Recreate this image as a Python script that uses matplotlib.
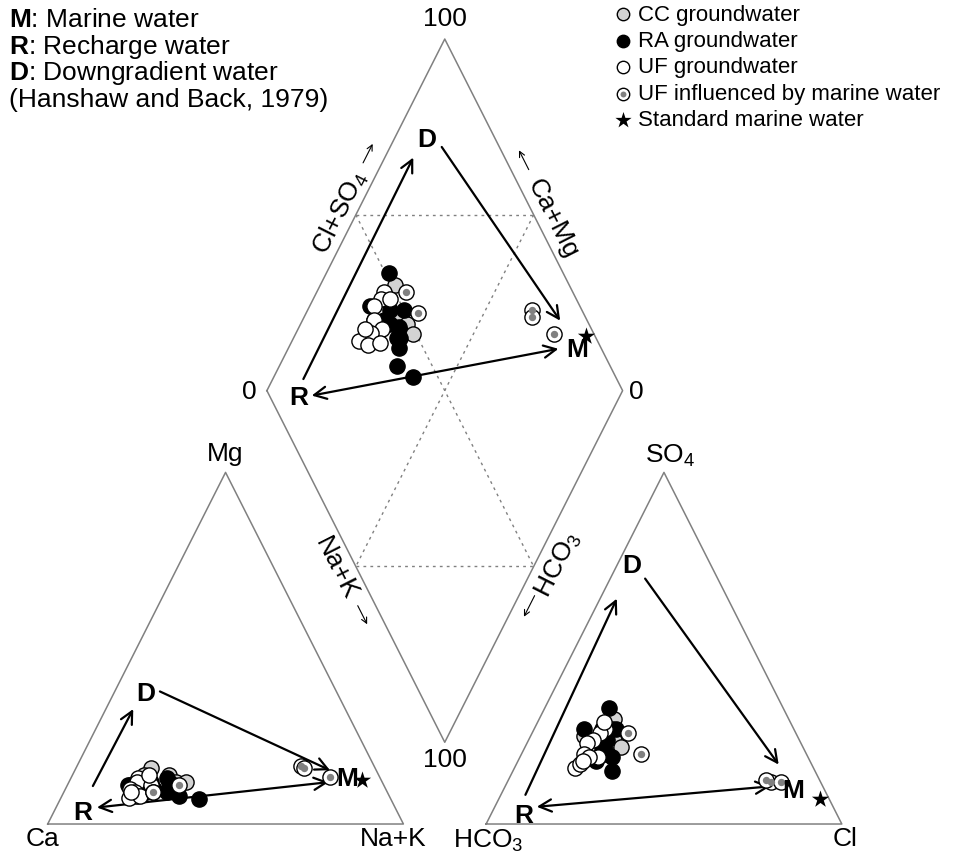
import numpy as np
import matplotlib.pyplot as plt
from matplotlib.transforms import ScaledTranslation

plt.rcParams['font.family'] = ['Liberation Sans', 'DejaVu Sans']
plt.rcParams['mathtext.fontset'] = 'custom'
plt.rcParams['mathtext.rm'] = 'Liberation Sans'
plt.rcParams['mathtext.bf'] = 'Liberation Sans:bold'
plt.rcParams['mathtext.it'] = 'Liberation Sans:italic'

# milliequivalent percentages; Ca = 100 - Mg - (Na+K), HCO3 = 100 - SO4 - Cl
cc_mg = [16, 14, 12, 10, 14, 12]
cc_nak = [21, 27, 30, 29, 20, 33]
cc_so4 = [30, 24, 27, 25, 25, 22]
cc_cl = [21, 24, 22, 21, 15, 27]

ra_mg = [11, 13, 12, 10, 9, 11, 8, 7, 12, 9, 11, 10]
ra_nak = [17.5, 27, 23, 25, 29, 17, 33, 39, 28, 23, 30, 31]
ra_so4 = [33, 27, 27, 22, 20, 27, 18, 15, 24, 21, 19, 20]
ra_cl = [18, 23, 19, 22, 24, 14, 22, 28, 22, 22, 26, 23]

uf_mg = [13, 12, 10, 9, 11, 8, 7.5, 8, 9, 14, 9]
uf_nak = [19, 19, 18, 20, 23.5, 21, 19, 22, 25, 21.6, 18.8]
uf_so4 = [27, 26, 24, 23, 19, 20, 16, 17, 19, 29, 18]
uf_cl = [20, 19, 18, 17, 22, 17.5, 17, 18, 19.5, 18.6, 18.3]

ufm_mg = [9, 11, 16.5, 16, 13.4]
ufm_nak = [25, 31.5, 63, 64, 72.7]
ufm_so4 = [26, 20, 12, 12.5, 12]
ufm_cl = [27, 33.5, 74, 72.5, 76.8]

sw_mg = [12.5]
sw_nak = [82]
sw_so4 = [7]
sw_cl = [90.5]

legend_labels = ['CC groundwater', 'RA groundwater', 'UF groundwater',
                 'UF influenced by marine water', 'Standard marine water']
note_lines = [r'$\mathbf{M}$: Marine water', r'$\mathbf{R}$: Recharge water',
              r'$\mathbf{D}$: Downgradient water', '(Hanshaw and Back, 1979)']

gap = 0.2325
h = np.sqrt(3) / 2
FS = 19
LEG_FS = 16
GREY = '#808080'


def cation_xy(mg, nak):
    mg = np.asarray(mg, float) / 100
    nak = np.asarray(nak, float) / 100
    return nak + mg / 2, mg * h


def anion_xy(so4, cl):
    so4 = np.asarray(so4, float) / 100
    cl = np.asarray(cl, float) / 100
    return 1 + gap + cl + so4 / 2, so4 * h


def diamond_xy(nak, clso4):
    n = np.asarray(nak, float) / 100
    a = np.asarray(clso4, float) / 100
    return 0.5 + gap / 2 + 0.5 * (a + n), h * (1 + gap) + h * (a - n)


def all_xy(mg, nak, so4, cl):
    pts = [cation_xy(mg, nak), anion_xy(so4, cl),
           diamond_xy(nak, np.add(so4, cl))]
    x = np.concatenate([p[0] for p in pts])
    y = np.concatenate([p[1] for p in pts])
    return x, y


fig = plt.figure(figsize=(9.56, 8.54), dpi=100)
ax = fig.add_axes([0, 0, 1, 1])
ax.set_xlim(-0.1341, 2.5535)
ax.set_ylim(-0.0714, 2.0320)
ax.axis('off')

# outlines
ca_v, nak_v, mg_v = (0, 0), (1, 0), (0.5, h)
hco3_v, cl_v, so4_v = (1 + gap, 0), (2 + gap, 0), (1.5 + gap, h)
dL = (0.5 + gap / 2, h * (1 + gap))
dT = (1 + gap / 2, h * (2 + gap))
dR = (1.5 + gap / 2, h * (1 + gap))
dB = (1 + gap / 2, h * gap)
for poly in [(ca_v, nak_v, mg_v), (hco3_v, cl_v, so4_v), (dL, dT, dR, dB)]:
    xs = [p[0] for p in poly] + [poly[0][0]]
    ys = [p[1] for p in poly] + [poly[0][1]]
    ax.plot(xs, ys, color=GREY, lw=1.1, zorder=1)


def mid(p, q):
    return ((p[0] + q[0]) / 2, (p[1] + q[1]) / 2)


# 50 % lines inside the diamond
for p, q in [(mid(dL, dT), mid(dT, dR)), (mid(dL, dB), mid(dB, dR)),
             (mid(dL, dT), mid(dB, dR)), (mid(dT, dR), mid(dL, dB))]:
    ax.plot([p[0], q[0]], [p[1], q[1]], color=GREY, lw=1.0,
            ls=(0, (2, 3)), zorder=1)


def off_label(pt, dx, dy, text, **kw):
    ax.annotate(text, xy=pt, xytext=(dx * 0.72, dy * 0.72),
                textcoords='offset points', ha='center', va='center',
                fontsize=FS, **kw)


off_label(mg_v, 0, 19, 'Mg')
off_label(ca_v, -5, -14, 'Ca')
off_label(nak_v, -10, -14, 'Na+K')
off_label(so4_v, 6, 17, r'SO$_4$')
off_label(hco3_v, 2, -16, r'HCO$_3$')
off_label(cl_v, 3, -14, 'Cl')
off_label(dT, 0, 21, '100')
off_label(dB, 0, -17, '100')
off_label(dL, -18, 0, '0')
off_label(dR, 14, 0, '0')


def edge_geom(p0, p1):
    a = ax.transData.transform(p0)
    b = ax.transData.transform(p1)
    d = (b - a) / np.hypot(*(b - a))
    return d, np.degrees(np.arctan2(d[1], d[0]))


def along(p0, p1, t):
    return (p0[0] + t * (p1[0] - p0[0]), p0[1] + t * (p1[1] - p0[1]))


def edge_text(p0, p1, t, perp, text):
    d, ang = edge_geom(p0, p1)
    nrm = np.array([-d[1], d[0]]) * perp
    ax.annotate(text, xy=along(p0, p1, t), xytext=(nrm[0] * 0.72, nrm[1] * 0.72),
                textcoords='offset points', ha='center', va='center',
                rotation=ang, rotation_mode='anchor', fontsize=FS)


def edge_arrow(p0, p1, t0, t1, perp):
    d, _ = edge_geom(p0, p1)
    nrm = np.array([-d[1], d[0]]) * perp / 100
    shift = ax.transData + ScaledTranslation(nrm[0], nrm[1], fig.dpi_scale_trans)
    ax.annotate('', xy=along(p0, p1, t1), xytext=along(p0, p1, t0),
                xycoords=shift, textcoords=shift,
                arrowprops=dict(arrowstyle='->', lw=0.8, color='black',
                                mutation_scale=10, shrinkA=0, shrinkB=0))


# axis names along the diamond edges
edge_text(dL, dT, 0.49, 16, r'Cl+SO$_4$')
edge_arrow(dL, dT, 0.626, 0.680, 17)
edge_text(dT, dR, 0.528, 16, 'Ca+Mg')
edge_arrow(dT, dR, 0.392, 0.337, 16)
edge_text(dL, dB, 0.479, -18, 'Na+K')
edge_arrow(dL, dB, 0.591, 0.644, -16)
edge_text(dB, dR, 0.535, -21, r'HCO$_3$')
edge_arrow(dB, dR, 0.435, 0.375, -14)

# samples
ms = 120
x, y = all_xy(cc_mg, cc_nak, cc_so4, cc_cl)
ax.scatter(x, y, s=ms, c='#d3d3d3', edgecolors='black', linewidths=1.0, zorder=3)
x, y = all_xy(ra_mg, ra_nak, ra_so4, ra_cl)
ax.scatter(x, y, s=ms, c='black', edgecolors='black', linewidths=1.0, zorder=4)
x, y = all_xy(uf_mg, uf_nak, uf_so4, uf_cl)
ax.scatter(x, y, s=ms, c='white', edgecolors='black', linewidths=1.0, zorder=5)
x, y = all_xy(ufm_mg, ufm_nak, ufm_so4, ufm_cl)
ax.scatter(x, y, s=ms, c='white', edgecolors='black', linewidths=1.0, zorder=6)
ax.scatter(x, y, s=28, c=GREY, linewidths=0, zorder=6)
x, y = all_xy(sw_mg, sw_nak, sw_so4, sw_cl)
ax.scatter(x, y, s=170, c='black', marker='*', linewidths=0, zorder=7)

# flow-path arrows: recharge -> downgradient -> marine
arrow_kw = dict(arrowstyle='->', lw=1.6, color='black', mutation_scale=22,
                shrinkA=0, shrinkB=0)
both_kw = dict(arrow_kw, arrowstyle='<->')


def path_marks(fxy, rd, d_lab, dm, rm, r_lab, m_lab):
    ax.annotate('', xy=fxy(*rd[1]), xytext=fxy(*rd[0]), arrowprops=arrow_kw, zorder=2)
    ax.annotate('', xy=fxy(*dm[1]), xytext=fxy(*dm[0]), arrowprops=arrow_kw, zorder=2)
    ax.annotate('', xy=fxy(*rm[1]), xytext=fxy(*rm[0]), arrowprops=both_kw, zorder=2)
    for pos, lab in [(d_lab, 'D'), (r_lab, 'R'), (m_lab, 'M')]:
        ax.text(*fxy(*pos), lab, fontsize=FS, fontweight='bold',
                ha='center', va='center', zorder=8)


path_marks(cation_xy,
           ((10.8, 7.3), (32.7, 7.7)), (37.4, 8.8),
           ((37.7, 12.7), (15.3, 71.7)), ((4.7, 11.5), (11.9, 73.0)),
           (3.3, 8.3), (13.0, 77.6))
path_marks(anion_xy,
           ((8.3, 6.9), (64.1, 4.7)), (73.6, 4.2),
           ((69.8, 9.8), (16.9, 73.8)), ((4.9, 11.8), (10.7, 74.5)),
           (2.6, 9.2), (9.7, 81.5))
path_marks(diamond_xy,
           ((8.6, 11.9), (8.0, 74.3)), (9.1, 80.7),
           ((14.5, 83.8), (72.5, 92.4)), ((13.3, 11.9), (76.0, 87.9)),
           (9.8, 7.9), (81.2, 93.0))


# notes and legend
def fig_xy(px, py):
    return px / 956, 1 - py / 854


for i, line in enumerate(note_lines):
    fig.text(*fig_xy(9, 20 + 26.7 * i), line, fontsize=FS, ha='left', va='center')

leg_styles = [dict(c='#d3d3d3', edgecolors='black', marker='o', s=80, linewidths=1.0),
              dict(c='black', edgecolors='black', marker='o', s=80, linewidths=1.0),
              dict(c='white', edgecolors='black', marker='o', s=80, linewidths=1.0),
              dict(c='white', edgecolors='black', marker='o', s=80, linewidths=1.0),
              dict(c='black', marker='*', s=150, linewidths=0)]
for i, (lab, st) in enumerate(zip(legend_labels, leg_styles)):
    py = 15 + 26.5 * i
    mx, my = fig_xy(623, py)
    ax.scatter([mx], [my], transform=fig.transFigure, zorder=9, clip_on=False, **st)
    if i == 3:
        ax.scatter([mx], [my], transform=fig.transFigure, s=18, c=GREY,
                   linewidths=0, zorder=10, clip_on=False)
    fig.text(*fig_xy(638, py), lab, fontsize=LEG_FS, ha='left', va='center')

fig.savefig('out.png', dpi=100)
